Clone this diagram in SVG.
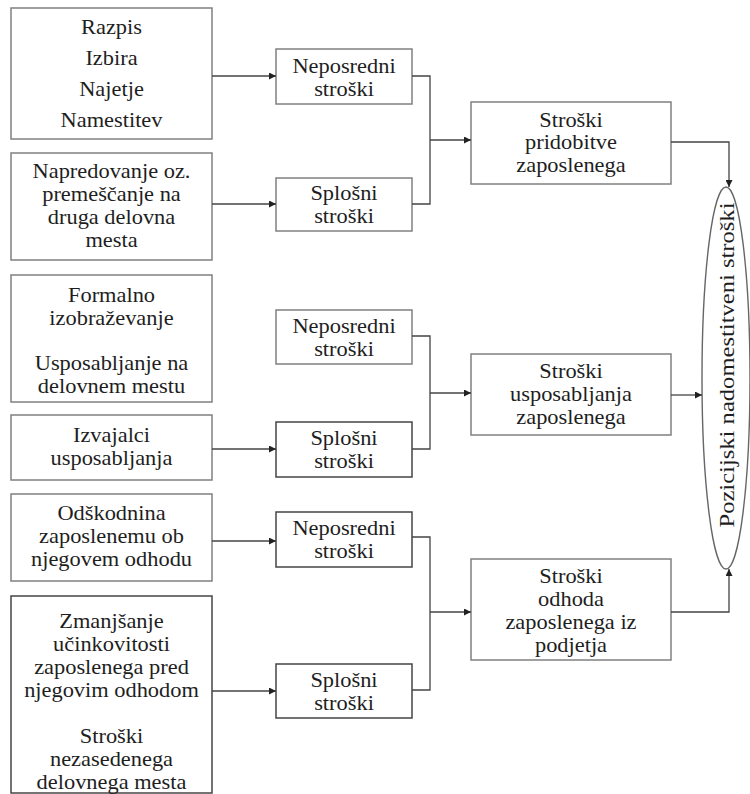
<svg xmlns="http://www.w3.org/2000/svg" width="750" height="794" viewBox="0 0 750 794">
  <defs>
    <marker id="arrow" viewBox="0 0 10 10" refX="10" refY="5" markerWidth="8" markerHeight="7" markerUnits="userSpaceOnUse" orient="auto">
      <path d="M0,0 L10,5 L0,10 z" fill="#222"/>
    </marker>
  </defs>
  <style>
    .box { fill: #fff; stroke: #808080; stroke-width: 1.5; }
    .dark { stroke: #454545; }
    text { font-family: 'Liberation Serif', 'Times New Roman', serif; font-size: 20px; fill: #1e1e1e; text-anchor: middle; }
    .wire { fill: none; stroke: #444; stroke-width: 1.3; }
    .arr { fill: none; stroke: #444; stroke-width: 1.3; marker-end: url(#arrow); }
  </style>

  <rect width="750" height="794" fill="#fff"/>

  <!-- left column: cost sources (labels widened 1.12x about the box centre) -->
  <g id="src-recruit">
    <rect class="box" x="11" y="8" width="201" height="131"/>
    <g transform="matrix(1.12 0 0 1 111.5 0)">
      <text x="0" y="34">Razpis</text>
      <text x="0" y="65">Izbira</text>
      <text x="0" y="96">Najetje</text>
      <text x="0" y="127">Namestitev</text>
    </g>
  </g>
  <g id="src-promotion">
    <rect class="box" x="11" y="153" width="201" height="107"/>
    <g transform="matrix(1.12 0 0 1 111.5 0)">
      <text x="0" y="178">Napredovanje oz.</text>
      <text x="0" y="201">premeščanje na</text>
      <text x="0" y="224">druga delovna</text>
      <text x="0" y="247">mesta</text>
    </g>
  </g>
  <g id="src-education">
    <rect class="box" x="11" y="275" width="201" height="127"/>
    <g transform="matrix(1.12 0 0 1 111.5 0)">
      <text x="0" y="302">Formalno</text>
      <text x="0" y="325">izobraževanje</text>
      <text x="0" y="370">Usposabljanje na</text>
      <text x="0" y="393">delovnem mestu</text>
    </g>
  </g>
  <g id="src-trainers">
    <rect class="box" x="11" y="415" width="201" height="65"/>
    <g transform="matrix(1.12 0 0 1 111.5 0)">
      <text x="0" y="442">Izvajalci</text>
      <text x="0" y="465">usposabljanja</text>
    </g>
  </g>
  <g id="src-severance">
    <rect class="box" x="11" y="494" width="201" height="87"/>
    <g transform="matrix(1.12 0 0 1 111.5 0)">
      <text x="0" y="520">Odškodnina</text>
      <text x="0" y="543">zaposlenemu ob</text>
      <text x="0" y="566">njegovem odhodu</text>
    </g>
  </g>
  <g id="src-efficiency">
    <rect class="box dark" x="11" y="596" width="201" height="197"/>
    <g transform="matrix(1.12 0 0 1 111.5 0)">
      <text x="0" y="628">Zmanjšanje</text>
      <text x="0" y="651">učinkovitosti</text>
      <text x="0" y="674">zaposlenega pred</text>
      <text x="0" y="697">njegovim odhodom</text>
      <text x="0" y="743">Stroški</text>
      <text x="0" y="766">nezasedenega</text>
      <text x="0" y="789">delovnega mesta</text>
    </g>
  </g>

  <!-- middle column: direct / general costs -->
  <g id="direct-1">
    <rect class="box" x="276" y="49" width="136" height="55"/>
    <g transform="matrix(1.12 0 0 1 344 0)">
      <text x="0" y="73">Neposredni</text>
      <text x="0" y="96">stroški</text>
    </g>
  </g>
  <g id="general-1">
    <rect class="box" x="276" y="178" width="136" height="53"/>
    <g transform="matrix(1.12 0 0 1 344 0)">
      <text x="0" y="200">Splošni</text>
      <text x="0" y="223">stroški</text>
    </g>
  </g>
  <g id="direct-2">
    <rect class="box" x="276" y="310" width="136" height="54"/>
    <g transform="matrix(1.12 0 0 1 344 0)">
      <text x="0" y="333">Neposredni</text>
      <text x="0" y="356">stroški</text>
    </g>
  </g>
  <g id="general-2">
    <rect class="box dark" x="276" y="422" width="136" height="55"/>
    <g transform="matrix(1.12 0 0 1 344 0)">
      <text x="0" y="445">Splošni</text>
      <text x="0" y="468">stroški</text>
    </g>
  </g>
  <g id="direct-3">
    <rect class="box dark" x="276" y="512" width="136" height="55"/>
    <g transform="matrix(1.12 0 0 1 344 0)">
      <text x="0" y="535">Neposredni</text>
      <text x="0" y="558">stroški</text>
    </g>
  </g>
  <g id="general-3">
    <rect class="box dark" x="276" y="664" width="136" height="54"/>
    <g transform="matrix(1.12 0 0 1 344 0)">
      <text x="0" y="687">Splošni</text>
      <text x="0" y="710">stroški</text>
    </g>
  </g>

  <!-- right column: cost groups -->
  <g id="acquisition">
    <rect class="box" x="471" y="102" width="200" height="82"/>
    <g transform="matrix(1.12 0 0 1 571 0)">
      <text x="0" y="127">Stroški</text>
      <text x="0" y="149">pridobitve</text>
      <text x="0" y="172">zaposlenega</text>
    </g>
  </g>
  <g id="training">
    <rect class="box" x="471" y="354" width="200" height="81"/>
    <g transform="matrix(1.12 0 0 1 571 0)">
      <text x="0" y="378">Stroški</text>
      <text x="0" y="401">usposabljanja</text>
      <text x="0" y="424">zaposlenega</text>
    </g>
  </g>
  <g id="separation">
    <rect class="box" x="471" y="559" width="200" height="101"/>
    <g transform="matrix(1.12 0 0 1 571 0)">
      <text x="0" y="583">Stroški</text>
      <text x="0" y="606">odhoda</text>
      <text x="0" y="629">zaposlenega iz</text>
      <text x="0" y="652">podjetja</text>
    </g>
  </g>

  <!-- total: positional replacement costs -->
  <g id="replacement">
    <ellipse cx="726" cy="378" rx="24" ry="191" fill="#fff" stroke="#666" stroke-width="1.4"/>
    <text transform="translate(734,365) rotate(-90)" x="0" y="0" font-size="21" textLength="325" lengthAdjust="spacingAndGlyphs">Pozicijski nadomestitveni stroški</text>
  </g>

  <!-- connectors -->
  <g id="connectors">
    <path class="arr" d="M212,76 H276"/>
    <path class="arr" d="M212,204 H276"/>
    <path class="arr" d="M212,449 H276"/>
    <path class="arr" d="M212,541 H276"/>
    <path class="arr" d="M212,691 H276"/>

    <path class="wire" d="M412,76 H430 V204 H412"/>
    <path class="arr" d="M430,140 H471"/>
    <path class="wire" d="M412,336 H430 V449 H412"/>
    <path class="arr" d="M430,393 H471"/>
    <path class="wire" d="M412,537 H430 V690 H412"/>
    <path class="arr" d="M430,612 H471"/>

    <path class="arr" d="M671,142 H729 V187"/>
    <path class="arr" d="M671,395 H702"/>
    <path class="arr" d="M671,612 H729 V569"/>
  </g>
</svg>
